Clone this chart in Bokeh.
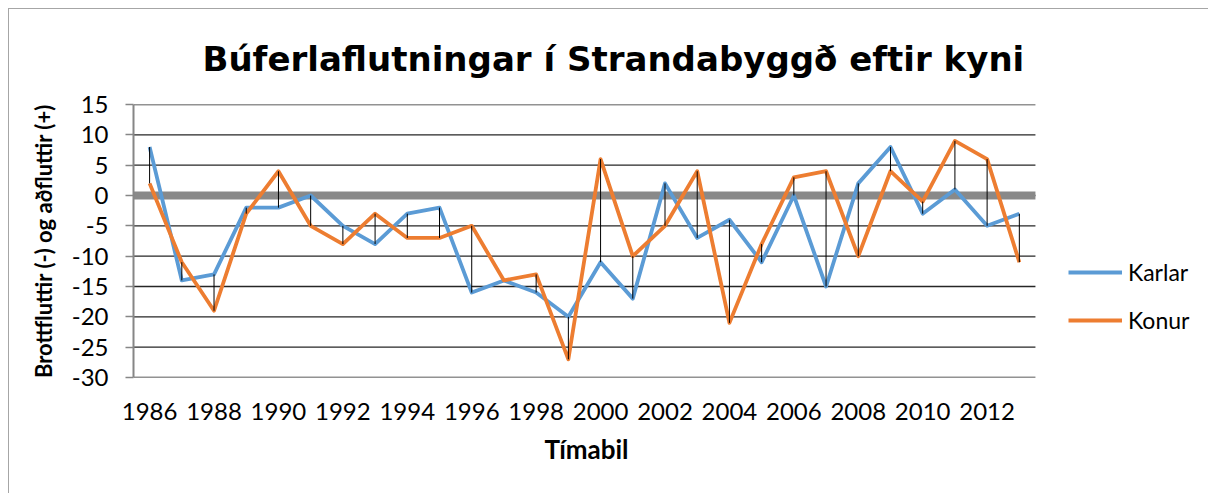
from bokeh.plotting import figure
from bokeh.models import Range1d, FixedTicker, Legend, LegendItem, Title
from bokeh.embed import file_html
from bokeh.resources import INLINE

years = list(range(1986, 2014))
karlar = [8, -14, -13, -2, -2, 0, -5, -8, -3, -2,
          -16, -14, -16, -20, -11, -17, 2, -7, -4, -11,
          0, -15, 2, 8, -3, 1, -5, -3]
konur = [2, -11, -19, -3, 4, -5, -8, -3, -7, -7,
         -5, -14, -13, -27, 6, -10, -5, 4, -21, -8,
         3, 4, -10, 4, -1, 9, 6, -11]
x_ticks = list(range(1986, 2013, 2))
y_ticks = list(range(-30, 16, 5))
series_names = ["Karlar", "Konur"]
title_text = "Búferlaflutningar í Strandabyggð eftir kyni"
x_title = "Tímabil"
y_title = "Brottfluttir (-) og aðfluttir (+)"

FONT = "Lato"
TITLE_FONT = "DejaVu Sans"

x_start = years[0] - 0.5
x_end = years[-1] + 0.5
x_view_end = x_end + 5  # room on the right for the legend

p = figure(frame_width=1063, frame_height=273, output_backend="svg",
           toolbar_location=None,
           x_range=Range1d(x_start, x_view_end), y_range=Range1d(-30, 15),
           min_border_left=124, min_border_top=95, min_border_right=12,
           min_border_bottom=116)
p.styles = {"margin-left": "8px", "margin-top": "8px",
            "border-left": "1px solid #a6a6a6", "border-top": "1px solid #a6a6a6"}
p.outline_line_color = None
p.background_fill_color = "white"
p.border_fill_color = "white"

# title
p.title.text = title_text
p.title.align = "left"
p.title.offset = 69
p.title.standoff = 52
p.title.text_font = TITLE_FONT
p.title.text_font_size = "34px"
p.title.text_font_style = "bold"
p.title.text_color = "black"

# grid (drawn only across the plotted years)
p.xgrid.grid_line_color = None
p.ygrid.grid_line_color = None
n = len(y_ticks)
p.segment(x0=[x_start] * n, y0=y_ticks, x1=[x_end] * n, y1=y_ticks,
          line_color="#262626", line_width=1.3)
# zero line
p.segment(x0=[x_start], y0=[0], x1=[x_end], y1=[0],
          line_color="#898989", line_width=8)

# axes
p.xaxis.ticker = FixedTicker(ticks=x_ticks)
p.xaxis.axis_line_color = None
p.xaxis.major_tick_line_color = None
p.xaxis.minor_tick_line_color = None
p.xaxis.major_label_text_font = FONT
p.xaxis.major_label_text_font_size = "24px"
p.xaxis.major_label_text_color = "black"
p.xaxis.major_label_standoff = 19

xt = Title(text=x_title, align="left", offset=411, standoff=16,
           text_font=FONT, text_font_size="26px", text_font_style="bold",
           text_color="black")
p.add_layout(xt, "below")

p.yaxis.ticker = FixedTicker(ticks=y_ticks)
p.yaxis.major_label_overrides = {t: str(t) for t in y_ticks}
p.yaxis.axis_line_color = "#868686"
p.yaxis.axis_line_width = 2
p.yaxis.major_tick_line_color = "#868686"
p.yaxis.major_tick_line_width = 1.5
p.yaxis.major_tick_out = 8
p.yaxis.major_tick_in = 0
p.yaxis.minor_tick_line_color = None
p.yaxis.major_label_text_font = FONT
p.yaxis.major_label_text_font_size = "24px"
p.yaxis.major_label_text_color = "black"
p.yaxis.major_label_standoff = 17
p.yaxis.axis_label = y_title
p.yaxis.axis_label_text_font = FONT
p.yaxis.axis_label_text_font_size = "22px"
p.yaxis.axis_label_text_font_style = "bold"
p.yaxis.axis_label_text_color = "black"
p.yaxis.axis_label_standoff = 12

colors = ["#5B9BD5", "#ED7D31"]
r1 = p.line(years, karlar, line_color=colors[0], line_width=3.8, line_join="round")
r2 = p.line(years, konur, line_color=colors[1], line_width=3.8, line_join="round")
p.segment(x0=years, y0=karlar, x1=years, y1=konur, line_color="black", line_width=1)

legend = Legend(items=[LegendItem(label=series_names[0], renderers=[r1]),
                       LegendItem(label=series_names[1], renderers=[r2])],
                location=(935, 43), orientation="vertical",
                glyph_width=54, glyph_height=24, label_height=24,
                label_standoff=6, spacing=20, padding=0, margin=0,
                border_line_color=None, background_fill_alpha=0,
                label_text_font=FONT, label_text_font_size="23px",
                label_text_color="black")
p.add_layout(legend, "center")

open("out.html", "w").write(file_html(p, INLINE))
